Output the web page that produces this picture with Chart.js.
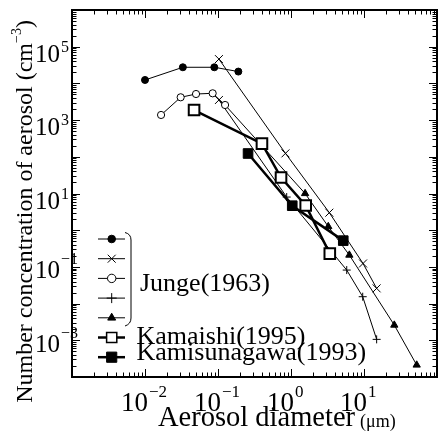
<!DOCTYPE html>
<html>
<head>
<meta charset="utf-8">
<script src="https://cdn.jsdelivr.net/npm/chart.js@4.4.1/dist/chart.umd.min.js"></script>
<style>
  body { margin: 0; background: #fff; }
  canvas { display: block; }
</style>
</head>
<body>
<canvas id="chart" width="441" height="431"></canvas>
<script>
// Junge(1963) - five curves
const jungeCircleX = [0.01, 0.033, 0.089, 0.19];
const jungeCircleY = [1.24e4, 2.75e4, 2.75e4, 2.1e4];

const jungeCrossX = [0.103, 0.84, 3.35, 9.7, 14.9];
const jungeCrossY = [4.6e4, 124, 3.0, 0.124, 0.026];

const jungeOpenX = [0.0166, 0.0308, 0.050, 0.0845, 0.125];
const jungeOpenY = [1380, 4180, 5140, 5370, 2580];

const jungePlusX = [0.103, 0.873, 5.8, 9.6, 14.9];
const jungePlusY = [3530, 8.0, 0.082, 0.0154, 0.00106];

const jungeTriX = [0.125, 1.56, 3.24, 6.3, 26, 52.7];
const jungeTriY = [2580, 10, 1.26, 0.21, 0.0026, 0.000212];

// Kamaishi(1995), Kamisunagawa(1993)
const kamaishiX = [0.047, 0.40, 0.73, 1.59, 3.4];
const kamaishiY = [1880, 228, 27.3, 4.7, 0.23];

const kamisunagawaX = [0.258, 1.04, 5.2];
const kamisunagawaY = [123, 4.65, 0.52];

// ticks
const xTickExps = [-2, -1, 0, 1];
const yTickExps = [5, 3, 1, -1, -3];

const legendNames = ['Junge(1963)', 'Kamaishi(1995)', 'Kamisunagawa(1993)'];

const SERIF = '"Liberation Serif", "DejaVu Serif", serif';

function pts(xs, ys) {
    return xs.map((x, i) => ({ x: x, y: ys[i] }));
}

const thin = {
    borderColor: '#000',
    borderWidth: 1,
    pointBorderColor: '#000',
    pointBorderWidth: 1,
    tension: 0
};

const datasets = [
    Object.assign({}, thin, {
        data: pts(kamisunagawaX, kamisunagawaY),
        borderWidth: 2.5,
        pointStyle: 'rect', pointRadius: 6.8,
        pointBackgroundColor: '#000'
    }),
    Object.assign({}, thin, {
        data: pts(kamaishiX, kamaishiY),
        borderWidth: 2.5,
        pointStyle: 'rect', pointRadius: 7.5,
        pointBackgroundColor: '#fff', pointBorderWidth: 2
    }),
    Object.assign({}, thin, {
        data: pts(jungeOpenX, jungeOpenY),
        pointStyle: 'circle', pointRadius: 3.6,
        pointBackgroundColor: '#fff'
    }),
    Object.assign({}, thin, {
        data: pts(jungeCircleX, jungeCircleY),
        pointStyle: 'circle', pointRadius: 3.5,
        pointBackgroundColor: '#000'
    }),
    Object.assign({}, thin, {
        data: pts(jungeCrossX, jungeCrossY),
        pointStyle: 'crossRot', pointRadius: 5.6
    }),
    Object.assign({}, thin, {
        data: pts(jungePlusX, jungePlusY),
        pointStyle: ['crossRot', 'cross', 'cross', 'cross', 'cross'],
        pointRadius: [5.6, 4, 4, 4, 4]
    }),
    Object.assign({}, thin, {
        data: pts(jungeTriX, jungeTriY),
        pointStyle: 'triangle',
        pointRadius: [0, 4.2, 4.2, 4.2, 4.2, 4.2],
        pointBackgroundColor: '#000'
    })
];

function marker(ctx, style, r, fill, bw, x, y) {
    ctx.save();
    ctx.fillStyle = fill;
    ctx.strokeStyle = '#000';
    ctx.lineWidth = bw;
    Chart.helpers.drawPoint(ctx, { pointStyle: style, radius: r, rotation: 0, borderWidth: bw }, x, y);
    ctx.restore();
}

function hline(ctx, x1, y1, x2, y2) {
    ctx.beginPath();
    ctx.moveTo(x1, y1);
    ctx.lineTo(x2, y2);
    ctx.stroke();
}

// axes, ticks, labels and legend
const decor = {
    id: 'decor',
    afterDraw(chart) {
        const ctx = chart.ctx;
        const a = chart.chartArea;
        const xs = chart.scales.x;
        const ys = chart.scales.y;
        ctx.save();
        ctx.strokeStyle = '#000';
        ctx.fillStyle = '#000';

        // minor / major ticks, inward on all sides
        ctx.lineWidth = 1;
        for (let e = -3; e <= 2; e++) {
            for (let m = 1; m <= 9; m++) {
                const v = m * Math.pow(10, e);
                if (v > 100.0001) continue;
                const px = Math.round(xs.getPixelForValue(v)) + 0.5;
                const len = m === 1 ? 8 : 4.5;
                hline(ctx, px, a.bottom, px, a.bottom - len);
                hline(ctx, px, a.top, px, a.top + len);
            }
        }
        for (let e = -4; e <= 6; e++) {
            for (let m = 1; m <= 9; m++) {
                const v = m * Math.pow(10, e);
                if (v > 1e6 * 1.0001) continue;
                const py = Math.round(ys.getPixelForValue(v)) + 0.5;
                const len = m === 1 ? 8 : 4.5;
                hline(ctx, a.left, py, a.left + len, py);
                hline(ctx, a.right, py, a.right - len, py);
            }
        }

        // frame
        ctx.lineWidth = 2;
        ctx.strokeRect(a.left, a.top, a.right - a.left, a.bottom - a.top);

        // x tick labels
        ctx.textBaseline = 'alphabetic';
        xTickExps.forEach(e => {
            const px = xs.getPixelForValue(Math.pow(10, e));
            ctx.font = '27px ' + SERIF;
            ctx.textAlign = 'right';
            ctx.fillText('10', px + 3, 411);
            ctx.font = '17px ' + SERIF;
            ctx.textAlign = 'left';
            ctx.fillText(String(e).replace('-', '\u2212'), px + 4, 397);
        });

        // y tick labels
        yTickExps.forEach(e => {
            const py = ys.getPixelForValue(Math.pow(10, e));
            const base = py + (e > 0 ? 15 : 11.5);
            ctx.font = '25px ' + SERIF;
            ctx.textAlign = 'right';
            ctx.fillText('10', 60, base);
            ctx.font = '16px ' + SERIF;
            ctx.textAlign = 'left';
            ctx.fillText(String(e).replace('-', '\u2212'), 61, base - (e > 0 ? 10 : 14));
        });

        // x title
        ctx.textAlign = 'left';
        ctx.font = '28.5px ' + SERIF;
        ctx.fillText('Aerosol diameter', 158, 426);
        const tw = ctx.measureText('Aerosol diameter').width;
        ctx.font = '18px ' + SERIF;
        ctx.fillText('(\u03bcm)', 158 + tw + 5, 427);

        // y title (rotated)
        ctx.save();
        ctx.translate(32, 211.5);
        ctx.rotate(-Math.PI / 2);
        const main = 'Number concentration of aerosol (cm';
        ctx.font = '24px ' + SERIF;
        const w1 = ctx.measureText(main).width;
        const w3 = ctx.measureText(')').width;
        ctx.font = '14px ' + SERIF;
        const w2 = ctx.measureText('\u22123').width;
        let x0 = -(w1 + w2 + w3) / 2;
        ctx.font = '24px ' + SERIF;
        ctx.fillText(main, x0, 0);
        ctx.font = '14px ' + SERIF;
        ctx.fillText('\u22123', x0 + w1, -11);
        ctx.font = '24px ' + SERIF;
        ctx.fillText(')', x0 + w1 + w2, 0);
        ctx.restore();

        // legend
        const lx1 = 98, lx2 = 125, mx = 111.7;
        const row0 = 239, step = 19.7;
        const rows = [
            ['circle', 3.8, '#000', 1, 1],
            ['crossRot', 5.6, '#000', 1, 1],
            ['circle', 4.2, '#fff', 1, 1],
            ['cross', 5, '#000', 1, 1],
            ['triangle', 4.6, '#000', 1, 1],
            ['rect', 7.2, '#fff', 1.5, 2.5],
            ['rect', 7.2, '#000', 1, 2.5]
        ];
        rows.forEach((r, i) => {
            const y = row0 + i * step;
            ctx.lineWidth = r[4];
            hline(ctx, lx1, y, lx2, y);
            marker(ctx, r[0], r[1], r[2], r[3], mx, y);
        });

        // bracket for Junge group
        ctx.lineWidth = 1;
        ctx.beginPath();
        ctx.moveTo(125, 232.5);
        ctx.quadraticCurveTo(131, 234, 131, 240);
        ctx.lineTo(131, 318);
        ctx.quadraticCurveTo(131, 324, 125, 326);
        ctx.stroke();

        ctx.fillStyle = '#000';
        ctx.textAlign = 'left';
        ctx.font = '26px ' + SERIF;
        ctx.fillText(legendNames[0], 140, 291);
        ctx.fillText(legendNames[1], 136.5, 343.5);
        ctx.fillText(legendNames[2], 136.5, 360);

        ctx.restore();
    }
};

new Chart(document.getElementById('chart'), {
    type: 'line',
    data: { datasets: datasets },
    options: {
        responsive: false,
        animation: false,
        devicePixelRatio: 1,
        layout: { autoPadding: false, padding: { left: 72, top: 10, right: 4, bottom: 54 } },
        scales: {
            x: { type: 'logarithmic', min: 1e-3, max: 1e2, display: false },
            y: { type: 'logarithmic', min: 1e-4, max: 1e6, display: false }
        },
        plugins: {
            legend: { display: false },
            tooltip: { enabled: false }
        }
    },
    plugins: [decor]
});
</script>
</body>
</html>
